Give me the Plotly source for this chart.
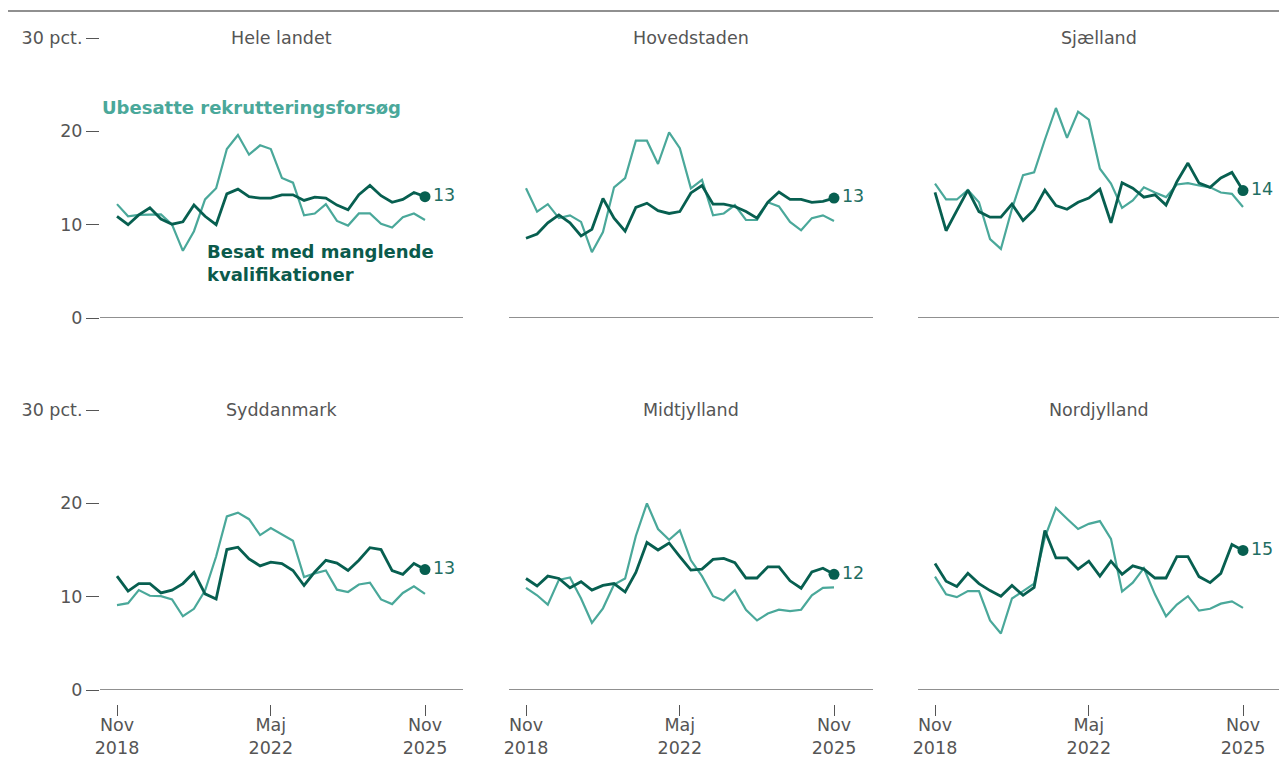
import pandas as pd
import plotly.graph_objects as go

# ---------------- data ----------------
months = pd.date_range("2018-11-01", periods=29, freq="3MS")

regions = ["Hele landet", "Hovedstaden", "Sjælland", "Syddanmark", "Midtjylland", "Nordjylland"]

ubesatte_hele = [12.2, 10.9, 11.05, 11.1, 11.1, 10.0, 7.2, 9.3, 12.7, 13.9, 18.1, 19.6, 17.5, 18.5, 18.1,
                 15.0, 14.5, 11.0, 11.2, 12.2, 10.4, 9.9, 11.2, 11.2, 10.1, 9.7, 10.8, 11.2, 10.5]
besat_hele = [10.9, 10.0, 11.05, 11.8, 10.6, 10.05, 10.3, 12.1, 10.9, 10.0, 13.3, 13.8, 13.0, 12.85, 12.85,
              13.2, 13.2, 12.6, 12.95, 12.85, 12.1, 11.6, 13.2, 14.2, 13.1, 12.4, 12.7, 13.45, 13.0]

ubesatte_hovedstaden = [13.9, 11.4, 12.2, 10.7, 11.0, 10.3, 7.05, 9.2, 14.0, 15.0, 19.0, 19.0, 16.5, 19.9, 18.2,
                        13.9, 14.8, 11.0, 11.2, 12.1, 10.5, 10.5, 12.4, 11.95, 10.3, 9.4, 10.7, 11.0, 10.4]
besat_hovedstaden = [8.55, 9.0, 10.2, 11.05, 10.2, 8.8, 9.5, 12.8, 10.7, 9.3, 11.85, 12.3, 11.5, 11.2, 11.4,
                     13.4, 14.2, 12.2, 12.2, 11.95, 11.4, 10.7, 12.4, 13.5, 12.7, 12.7, 12.4, 12.5, 12.85]

ubesatte_sjaelland = [14.4, 12.7, 12.7, 13.7, 12.4, 8.45, 7.4, 11.7, 15.3, 15.6, 19.1, 22.5, 19.3, 22.1, 21.25,
                      16.0, 14.4, 11.8, 12.6, 14.0, 13.45, 12.95, 14.3, 14.45, 14.2, 14.0, 13.45, 13.3, 11.9]
besat_sjaelland = [13.45, 9.35, 11.5, 13.7, 11.4, 10.8, 10.8, 12.2, 10.45, 11.6, 13.7, 12.05, 11.65, 12.4, 12.85,
                   13.8, 10.2, 14.5, 13.9, 12.95, 13.2, 12.1, 14.6, 16.6, 14.45, 14.0, 15.0, 15.6, 13.65]

ubesatte_syddanmark = [9.1, 9.3, 10.7, 10.1, 10.05, 9.7, 7.9, 8.7, 10.65, 14.3, 18.6, 19.0, 18.3, 16.6, 17.35,
                       16.7, 16.0, 12.1, 12.5, 12.8, 10.75, 10.5, 11.3, 11.5, 9.7, 9.2, 10.4, 11.1, 10.3]
besat_syddanmark = [12.2, 10.6, 11.4, 11.4, 10.4, 10.7, 11.4, 12.6, 10.3, 9.75, 15.05, 15.3, 14.05, 13.3, 13.7,
                    13.55, 12.8, 11.2, 12.65, 13.9, 13.6, 12.8, 13.9, 15.25, 15.05, 12.8, 12.4, 13.55, 12.9]

ubesatte_midtjylland = [10.95, 10.15, 9.15, 11.8, 12.05, 9.8, 7.2, 8.75, 11.3, 11.95, 16.5, 20.0, 17.25, 16.1, 17.1,
                        13.9, 12.2, 10.05, 9.6, 10.7, 8.6, 7.45, 8.2, 8.6, 8.45, 8.6, 10.15, 10.95, 11.0]
besat_midtjylland = [11.95, 11.15, 12.2, 11.95, 10.95, 11.6, 10.7, 11.2, 11.4, 10.5, 12.6, 15.8, 15.0, 15.75, 14.3,
                     12.85, 12.95, 14.0, 14.1, 13.65, 12.0, 12.0, 13.2, 13.2, 11.7, 10.9, 12.65, 13.05, 12.4]

ubesatte_nordjylland = [12.15, 10.25, 9.95, 10.6, 10.6, 7.45, 6.05, 9.8, 10.6, 11.4, 16.35, 19.5, 18.35, 17.25, 17.8,
                        18.1, 16.2, 10.55, 11.5, 13.05, 10.25, 7.9, 9.15, 10.05, 8.5, 8.7, 9.25, 9.5, 8.8]
besat_nordjylland = [13.55, 11.65, 11.1, 12.5, 11.4, 10.65, 10.05, 11.2, 10.15, 11.0, 17.1, 14.15, 14.15, 12.95, 13.8,
                     12.2, 13.8, 12.4, 13.3, 12.95, 12.0, 12.0, 14.3, 14.3, 12.15, 11.5, 12.5, 15.6, 14.95]

ubesatte = [ubesatte_hele, ubesatte_hovedstaden, ubesatte_sjaelland,
            ubesatte_syddanmark, ubesatte_midtjylland, ubesatte_nordjylland]
besat = [besat_hele, besat_hovedstaden, besat_sjaelland,
         besat_syddanmark, besat_midtjylland, besat_nordjylland]

y_tickvals = [0, 10, 20, 30]
y_ticktext = ["0", "10", "20", "30 pct."]
x_tickvals = ["2018-11-01", "2022-05-01", "2025-11-01"]
x_ticktext = ["Nov<br>2018", "Maj<br>2022", "Nov<br>2025"]

label_ubesatte = "Ubesatte rekrutteringsforsøg"
label_besat = "Besat med manglende<br>kvalifikationer"

# ---------------- style ----------------
W, H = 1279, 762
LIGHT = "#4aa89a"
DARK = "#075f50"
LABEL = "#1f6e62"
GREY = "#555555"
AXIS = "#6b6b6b"
FONT = "DejaVu Sans"
FS = 17.5

col_px = [(100, 463), (509, 873), (918, 1279)]
first_px = [117, 526, 935]
last_px = [425, 834, 1243]
row_px = [(38, 318), (410, 690)]

fig = go.Figure()
layout = dict(
    template="none",
    width=W, height=H, autosize=False,
    margin=dict(l=0, r=0, t=0, b=0, pad=0),
    paper_bgcolor="white", plot_bgcolor="white",
    showlegend=False,
    font=dict(family=FONT, size=FS, color=GREY),
)
shapes = []
annotations = []

t0, t1 = months[0], months[-1]
total_days = (t1 - t0).days

for i, name in enumerate(regions):
    r, c = divmod(i, 3)
    k = i + 1
    xa = "x" if k == 1 else f"x{k}"
    ya = "y" if k == 1 else f"y{k}"
    xkey = "xaxis" if k == 1 else f"xaxis{k}"
    ykey = "yaxis" if k == 1 else f"yaxis{k}"

    x0p, x1p = col_px[c]
    y0p, y1p = row_px[r]
    s = (last_px[c] - first_px[c]) / total_days
    rng0 = t0 - pd.Timedelta(days=(first_px[c] - x0p) / s)
    rng1 = t1 + pd.Timedelta(days=(x1p - last_px[c]) / s)

    xax = dict(
        domain=[x0p / W, x1p / W],
        range=[rng0, rng1],
        automargin=False,
        showgrid=False, zeroline=False, showline=False,
        tickvals=x_tickvals, ticktext=x_ticktext,
        tickfont=dict(family=FONT, size=FS, color=GREY),
        fixedrange=True,
    )
    if r == 1:
        xax.update(anchor="free", position=1 - 704 / H, ticks="outside",
                   ticklen=11, tickwidth=1.3, tickcolor=GREY, showticklabels=True)
    else:
        xax.update(anchor=ya, ticks="", showticklabels=False)
    layout[xkey] = xax

    yax = dict(
        domain=[1 - y1p / H, 1 - y0p / H],
        range=[0, 30],
        anchor=xa,
        automargin=False,
        showgrid=False, zeroline=False, showline=False,
        tickvals=y_tickvals, ticktext=y_ticktext,
        tickfont=dict(family=FONT, size=FS, color=GREY),
        fixedrange=True,
    )
    if c == 0:
        yax.update(ticks="outside", ticklen=13, tickwidth=1.3, tickcolor=GREY, showticklabels=True)
    else:
        yax.update(ticks="", showticklabels=False)
    layout[ykey] = yax

    fig.add_trace(go.Scatter(x=months, y=ubesatte[i], mode="lines",
                             line=dict(color=LIGHT, width=2.2),
                             xaxis=xa, yaxis=ya, hoverinfo="skip"))
    fig.add_trace(go.Scatter(x=months, y=besat[i], mode="lines",
                             line=dict(color=DARK, width=2.8),
                             xaxis=xa, yaxis=ya, hoverinfo="skip"))
    last_val = besat[i][-1]
    fig.add_trace(go.Scatter(x=[months[-1]], y=[last_val], mode="markers+text",
                             marker=dict(color=DARK, size=11, line=dict(width=0)),
                             text=[f"{last_val:.0f}"], textposition="middle right",
                             textfont=dict(family=FONT, size=FS, color=LABEL),
                             xaxis=xa, yaxis=ya, hoverinfo="skip", cliponaxis=False))

    shapes.append(dict(type="line", xref=f"{xa} domain", yref=ya, x0=0, x1=1, y0=0, y1=0,
                       line=dict(color=AXIS, width=1.3), layer="below"))

    annotations.append(dict(text=name, xref="paper", yref="paper",
                            x=(x0p + x1p) / 2 / W, y=1 - y0p / H,
                            xanchor="center", yanchor="middle", showarrow=False,
                            font=dict(family=FONT, size=FS, color=GREY)))

annotations.append(dict(text=f"<b>{label_ubesatte}</b>", xref="x domain", yref="y",
                        x=0, y=22.5, xanchor="left", yanchor="middle", showarrow=False,
                        font=dict(family=FONT, size=18, color=LIGHT)))
annotations.append(dict(text=f"<b>{label_besat}</b>", xref="x domain", yref="y",
                        x=(205 - 100) / 363, y=5.9, xanchor="left", yanchor="middle",
                        align="left", showarrow=False,
                        font=dict(family=FONT, size=18, color="#0b5a4b")))

shapes.append(dict(type="line", xref="paper", yref="paper", x0=8 / W, x1=1,
                   y0=1 - 11 / H, y1=1 - 11 / H, line=dict(color=AXIS, width=1.3)))

layout["shapes"] = shapes
layout["annotations"] = annotations
fig.update_layout(**layout)

# pull the bottom tick labels slightly closer to their tick marks
standoff_ok = True
for k in (4, 5, 6):
    try:
        fig.layout[f"xaxis{k}"].ticklabelstandoff = -6
    except Exception:
        standoff_ok = False
if not standoff_ok:
    for k in (4, 5, 6):
        fig.layout[f"xaxis{k}"].position = 1 - 699 / H
        fig.layout[f"xaxis{k}"].ticklen = 10

fig.write_html(
    "out.html",
    config={"displayModeBar": False},
    post_script="document.body.style.margin='0';document.body.style.padding='0';"
                "document.body.style.overflow='hidden';"
                "document.documentElement.style.overflow='hidden';",
)
